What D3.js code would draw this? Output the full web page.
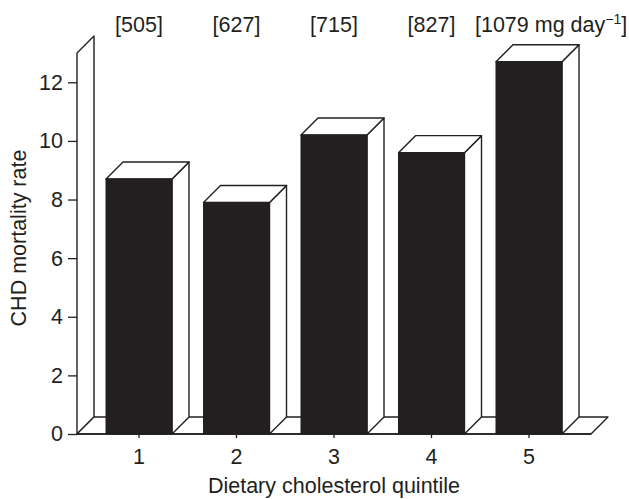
<!DOCTYPE html>
<html>
<head>
<meta charset="utf-8">
<script src="https://cdn.jsdelivr.net/npm/d3@7"></script>
<style>
  body { margin: 0; background: #fff; }
  text { font-family: "Liberation Sans", Arial, Helvetica, sans-serif; fill: #231f20; }
</style>
</head>
<body>
<svg id="chart" width="629" height="499"></svg>
<script>
// chart data
var quintiles = [1, 2, 3, 4, 5];
var mortality = [8.7, 7.9, 10.2, 9.6, 12.7];
var intakeLabels = ["[505]", "[627]", "[715]", "[827]", "[1079 mg day"];
var yTicks = [0, 2, 4, 6, 8, 10, 12];

var svg = d3.select("#chart");
var ink = "#231f20";
var fontSize = 21.5;

// pseudo-3d depth of bars, wall and floor
var depth = { dx: 17, dy: 17 };

var x = d3.scaleBand()
	.domain(quintiles)
	.range([77, 591])
	.paddingInner(0.323)
	.paddingOuter(0.2975);

var y = d3.scaleLinear()
	.domain([0, 13])
	.range([434, 53]);

var x0 = x.range()[0], x1 = x.range()[1];
var y0 = y(0), yTop = y(13);

function pts(arr) {
	return arr.map(function (p) { return p.join(","); }).join(" ");
}

// back wall
svg.append("polygon")
	.attr("points", pts([[x0, y0], [x0, yTop], [x0 + depth.dx, yTop - depth.dy], [x0 + depth.dx, y0 - depth.dy]]))
	.attr("fill", "#fff").attr("stroke", ink).attr("stroke-width", 1.4)
	.attr("stroke-linejoin", "round");

// floor
svg.append("polygon")
	.attr("points", pts([[x0, y0], [x1, y0], [x1 + depth.dx, y0 - depth.dy], [x0 + depth.dx, y0 - depth.dy]]))
	.attr("fill", "#fff").attr("stroke", ink).attr("stroke-width", 1.4)
	.attr("stroke-linejoin", "round");

// bars
var bars = svg.append("g").selectAll("g")
	.data(quintiles.map(function (q, i) { return { q: q, v: mortality[i] }; }))
	.enter().append("g");

bars.append("polygon") // right side
	.attr("points", function (d) {
		var r = x(d.q) + x.bandwidth(), t = y(d.v);
		return pts([[r, y0], [r, t], [r + depth.dx, t - depth.dy], [r + depth.dx, y0 - depth.dy]]);
	})
	.attr("fill", "#fff").attr("stroke", ink).attr("stroke-width", 1.4).attr("stroke-linejoin", "round");

bars.append("polygon") // top
	.attr("points", function (d) {
		var l = x(d.q), r = l + x.bandwidth(), t = y(d.v);
		return pts([[l, t], [r, t], [r + depth.dx, t - depth.dy], [l + depth.dx, t - depth.dy]]);
	})
	.attr("fill", "#fff").attr("stroke", ink).attr("stroke-width", 1.4).attr("stroke-linejoin", "round");

bars.append("rect") // front
	.attr("x", function (d) { return x(d.q); })
	.attr("y", function (d) { return y(d.v); })
	.attr("width", x.bandwidth())
	.attr("height", function (d) { return y0 - y(d.v); })
	.attr("fill", ink).attr("stroke", ink).attr("stroke-width", 1);

// front edge of floor redrawn over bar bottoms
svg.append("line")
	.attr("x1", x0).attr("x2", x1).attr("y1", y0).attr("y2", y0)
	.attr("stroke", ink).attr("stroke-width", 1.4);

// y axis
var yAxis = d3.axisLeft(y).tickValues(yTicks).tickSize(9).tickPadding(5);
var gy = svg.append("g").attr("transform", "translate(" + x0 + ",0)").call(yAxis);
gy.select(".domain").remove();
gy.selectAll(".tick line").attr("stroke", ink).attr("stroke-width", 1.3);
gy.selectAll(".tick text").attr("font-size", fontSize).attr("fill", ink)
	.style("font-family", "'Liberation Sans', Arial, sans-serif");

// x axis
var xAxis = d3.axisBottom(x).tickSize(4).tickPadding(11);
var gx = svg.append("g").attr("transform", "translate(0," + y0 + ")").call(xAxis);
gx.select(".domain").remove();
gx.selectAll(".tick line").attr("stroke", ink).attr("stroke-width", 1.3);
gx.selectAll(".tick text").attr("font-size", fontSize).attr("fill", ink)
	.style("font-family", "'Liberation Sans', Arial, sans-serif");

// intake labels above bars
var tl = svg.append("g").selectAll("text")
	.data(intakeLabels)
	.enter().append("text")
	.attr("x", function (d, i) {
		var c = x(quintiles[i]) + x.bandwidth() / 2;
		return i === intakeLabels.length - 1 ? c - 54 : c;
	})
	.attr("y", 32)
	.attr("text-anchor", function (d, i) { return i === intakeLabels.length - 1 ? "start" : "middle"; })
	.attr("font-size", fontSize)
	.text(function (d) { return d; });

var last = tl.filter(function (d, i) { return i === intakeLabels.length - 1; });
last.append("tspan").attr("font-size", 14).attr("dy", -8).text("\u22121");
last.append("tspan").attr("dy", 8).text("]");

// axis titles
svg.append("text")
	.attr("x", (x(1) + x(5) + x.bandwidth()) / 2).attr("y", 493)
	.attr("text-anchor", "middle").attr("font-size", fontSize)
	.text("Dietary cholesterol quintile");

svg.append("text")
	.attr("transform", "translate(26,238) rotate(-90)")
	.attr("text-anchor", "middle").attr("font-size", fontSize)
	.text("CHD mortality rate");
</script>
</body>
</html>
